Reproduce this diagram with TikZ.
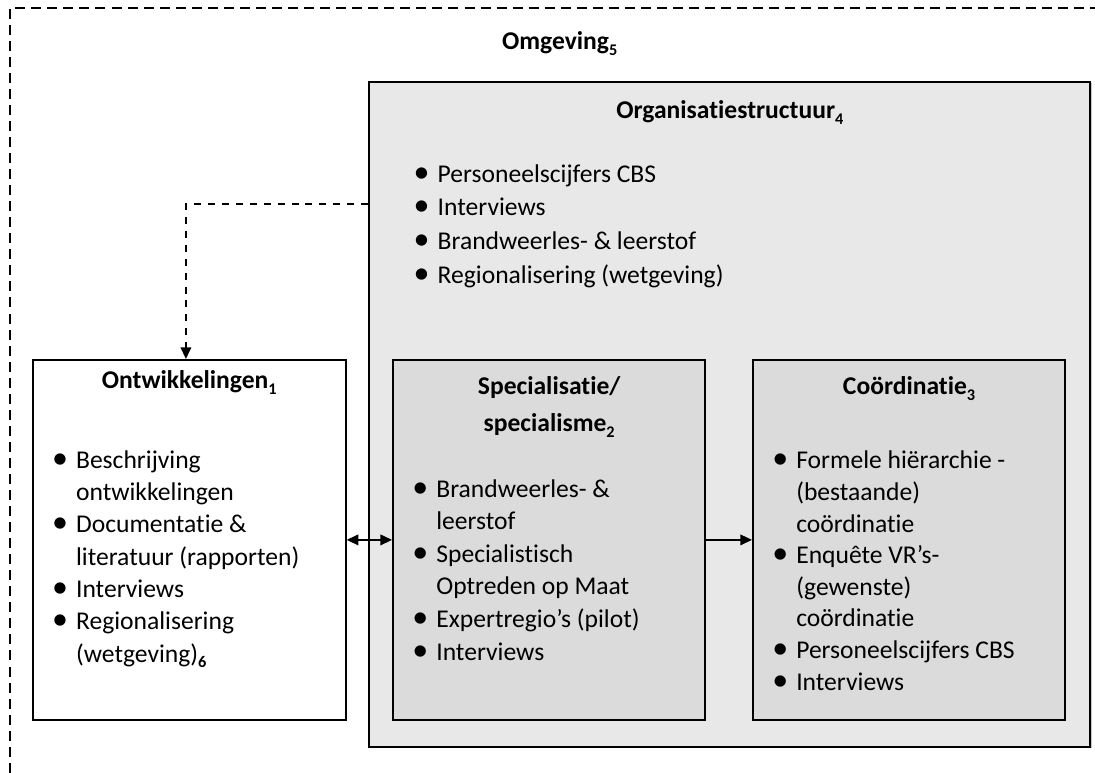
\documentclass[tikz,border=0pt]{standalone}
\usepackage{fontspec}
\setmainfont{Carlito}[Ligatures={NoCommon}]
\usepackage{tikz}
\usetikzlibrary{positioning, arrows.meta, shadows}

\definecolor{orggrijs}{HTML}{E8E8E8}
\definecolor{deelgrijs}{HTML}{DBDBDB}

\newcommand{\nr}[1]{\raisebox{-0.45ex}{\scriptsize\bfseries #1}}
\newcommand{\bul}{\makebox[10.3pt][l]{\scalebox{1.25}{\textbullet}}}
\newcommand{\ind}{\hspace*{10.3pt}}
\newcommand{\rijen}[1]{\begin{tabular}[t]{@{}l@{}}#1\end{tabular}}

\tikzset{
  blok/.style={draw, line width=0.8pt, inner sep=0pt,
    drop shadow={shadow xshift=0.5pt, shadow yshift=-0.5pt, fill=black!45}},
  deelblok/.style={blok, minimum width=4.72cm, minimum height=5.44cm},
  titel/.style={font=\fontsize{11}{15}\selectfont\bfseries, align=center, inner sep=0pt, anchor=base},
  lijst/.style={font=\fontsize{11}{14}\selectfont, inner sep=0pt, anchor=base west},
  pijl/.style={line width=0.8pt, -{Triangle[length=5pt, width=4.5pt]}},
}

\begin{document}
\begin{tikzpicture}
    \useasboundingbox (0,0) rectangle (16.55,11.68);

    % omgeving (open kader)
    \draw[line width=0.8pt, dash pattern=on 4.3pt off 2.6pt] (0.15,0) -- (0.15,11.56) -- (16.55,11.56);
    \node[titel] (omgeving) at (8.46,10.93) {Omgeving\nr{5}};

    % organisatiestructuur
    \node[blok, fill=orggrijs, minimum width=10.90cm, minimum height=10.05cm] (org) at (11.03,5.42) {};
    \node[titel] (orgtitel) at ([yshift=-0.57cm]org.north) {Organisatiestructuur\nr{4}};
    \node[lijst] (orglijst) at ([xshift=0.68cm, yshift=-1.53cm]org.north west)
        {\fontsize{11}{14.6}\selectfont\rijen{\bul Personeelscijfers CBS\\ \bul Interviews\\ \bul Brandweerles- \& leerstof\\ \bul Regionalisering (wetgeving)}};

    % ontwikkelingen
    \node[deelblok, fill=white, minimum width=4.73cm] (ontw) at (2.86,3.52) {};
    \node[titel] (ontwtitel) at ([yshift=-0.45cm]ontw.north) {Ontwikkelingen\nr{1}};
    \node[lijst] (ontwlijst) at ([xshift=0.30cm, yshift=-1.65cm]ontw.north west)
        {\fontsize{11}{13.9}\selectfont\rijen{\bul Beschrijving\\ \ind ontwikkelingen\\ \bul Documentatie \&\\ \ind literatuur (rapporten)\\ \bul Interviews\\ \bul Regionalisering\\ \ind (wetgeving)\nr{6}}};

    % specialisatie
    \node[deelblok, fill=deelgrijs] (spec) at (8.30,3.52) {};
    \node[titel] (spectitel) at ([yshift=-0.54cm]spec.north) {\fontsize{11}{15.9}\selectfont\begin{tabular}[t]{@{}c@{}}Specialisatie/\\ specialisme\nr{2}\end{tabular}};
    \node[lijst] (speclijst) at ([xshift=0.30cm, yshift=-2.09cm]spec.north west)
        {\rijen{\bul Brandweerles- \&\\ \ind leerstof\\ \bul Specialistisch\\ \ind Optreden op Maat\\ \bul Expertregio’s (pilot)\\ \bul Interviews}};

    % coordinatie
    \node[deelblok, fill=deelgrijs] (coord) at (13.74,3.52) {};
    \node[titel] (coordtitel) at ([yshift=-0.54cm]coord.north) {Coördinatie\nr{3}};
    \node[lijst] (coordlijst) at ([xshift=0.30cm, yshift=-1.66cm]coord.north west)
        {\fontsize{11}{13.6}\selectfont\rijen{\bul Formele hiërarchie -\\ \ind (bestaande)\\ \ind coördinatie\\ \bul Enquête VR’s-\\ \ind (gewenste)\\ \ind coördinatie\\ \bul Personeelscijfers CBS\\ \bul Interviews}};

    % verbindingen
    \coordinate (knik) at (2.81,8.60);
    \draw[pijl, dashed] (org.west |- knik) -- (knik) -- (knik |- ontw.north);
    \draw[pijl, {Triangle[length=5pt, width=4.5pt]}-{Triangle[length=5pt, width=4.5pt]}] (ontw.east) -- (ontw.east -| spec.west);
    \draw[pijl] (spec.east |- ontw.east) -- (coord.west |- ontw.east);
\end{tikzpicture}
\end{document}
